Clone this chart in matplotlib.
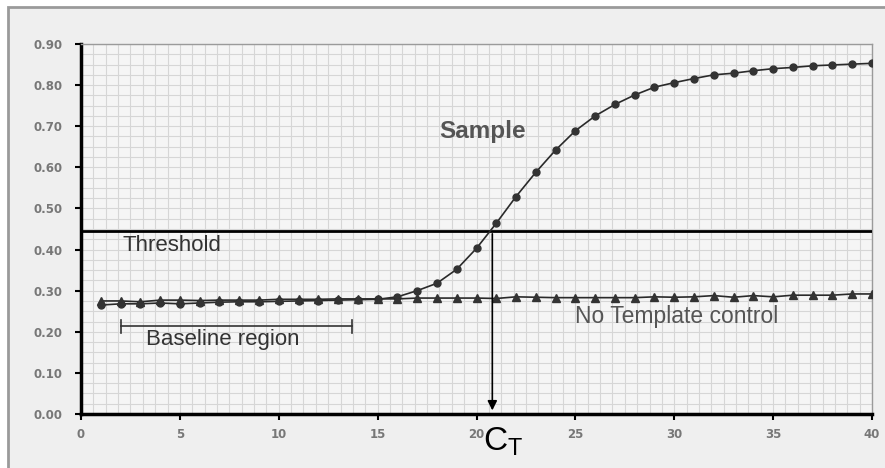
import numpy as np
import matplotlib.pyplot as plt
from matplotlib.patches import Rectangle
from matplotlib.ticker import MultipleLocator

# cycle numbers
cycles = list(range(1, 41))

# Sample fluorescence (circles)
sample = [0.265, 0.268, 0.268, 0.270, 0.268, 0.270, 0.272, 0.273, 0.273, 0.274,
          0.275, 0.276, 0.277, 0.278, 0.279, 0.285, 0.300, 0.318, 0.352, 0.403,
          0.464, 0.529, 0.588, 0.642, 0.689, 0.725, 0.753, 0.776, 0.795, 0.806,
          0.816, 0.825, 0.829, 0.835, 0.840, 0.843, 0.847, 0.849, 0.851, 0.853]

# No template control (triangles)
ntc = [0.275, 0.275, 0.273, 0.277, 0.277, 0.276, 0.277, 0.277, 0.277, 0.279,
       0.279, 0.279, 0.280, 0.280, 0.280, 0.280, 0.282, 0.282, 0.282, 0.282,
       0.281, 0.285, 0.284, 0.283, 0.283, 0.283, 0.283, 0.283, 0.285, 0.284,
       0.285, 0.288, 0.284, 0.288, 0.285, 0.289, 0.289, 0.289, 0.292, 0.292]

threshold = 0.445
ct = 20.8
baseline_start = 2.0
baseline_end = 13.7

x_ticks = [0, 5, 10, 15, 20, 25, 30, 35, 40]
y_ticks = [0.0, 0.1, 0.2, 0.3, 0.4, 0.5, 0.6, 0.7, 0.8, 0.9]

plt.rcParams['font.family'] = ['Liberation Sans', 'DejaVu Sans']
plt.rcParams['mathtext.fontset'] = 'custom'
plt.rcParams['mathtext.rm'] = 'Liberation Sans'

fig = plt.figure(figsize=(8.85, 4.68), dpi=100)
fig.patch.set_facecolor('white')
# panel frame
frame = Rectangle((8 / 885, -0.01), 1.0, 1 - 7 / 468 + 0.01,
                  transform=fig.transFigure, facecolor='#efefef',
                  edgecolor='#9a9a9a', linewidth=2, zorder=-10)
fig.add_artist(frame)

ax = fig.add_axes([81 / 885, 1 - 414 / 468, (872 - 81) / 885, (414 - 44) / 468])
ax.set_facecolor('#f5f5f5')

ax.plot(cycles, sample, color='#2a2a2a', linewidth=1.2, marker='o',
        markersize=5, markerfacecolor='#333333', markeredgecolor='#333333', zorder=4)
ax.plot(cycles, ntc, color='#2a2a2a', linewidth=1.2, marker='^',
        markersize=6, markerfacecolor='#333333', markeredgecolor='#333333', zorder=4)

# threshold
ax.axhline(threshold, color='black', linewidth=2, zorder=3)
ax.text(2.1, 0.41, 'Threshold', fontsize=16, color='#333333', va='center')

# Ct arrow
ax.annotate('', xy=(ct, 0.002), xytext=(ct, threshold),
            arrowprops=dict(arrowstyle='-|>', color='black', lw=1.2,
                            mutation_scale=14), zorder=5)
ax.text(ct + 0.55, -0.068, r'$\mathregular{C_T}$', fontsize=24, color='black',
        ha='center', va='center', clip_on=False)

# baseline region bracket
ax.plot([baseline_start, baseline_end], [0.215, 0.215], color='#333333', linewidth=1.2)
ax.plot([baseline_start, baseline_start], [0.198, 0.228], color='#333333', linewidth=1.2)
ax.plot([baseline_end, baseline_end], [0.198, 0.228], color='#333333', linewidth=1.2)
ax.text(3.3, 0.182, 'Baseline region', fontsize=16, color='#333333', va='center')

ax.text(18.1, 0.686, 'Sample', fontsize=17.5, fontweight='bold', color='#555555',
        va='center')
ax.text(25.0, 0.237, 'No Template control', fontsize=16.5, color='#555555',
        va='center')

ax.set_xlim(0, 40)
ax.set_ylim(0, 0.9)
ax.set_xticks(x_ticks)
ax.set_yticks(y_ticks)
ax.set_yticklabels(['%.2f' % v for v in y_ticks])
ax.xaxis.set_minor_locator(MultipleLocator(0.625))
ax.yaxis.set_minor_locator(MultipleLocator(0.025))
ax.grid(True, which='both', color='#d6d6d6', linewidth=0.8)
ax.set_axisbelow(True)

ax.tick_params(which='minor', length=0)
ax.tick_params(which='major', length=4, width=1.5, color='black',
               labelsize=8.5, labelcolor='#777777')
ax.tick_params(axis='y', pad=9)
ax.tick_params(axis='x', pad=6)
for lbl in ax.get_xticklabels() + ax.get_yticklabels():
    lbl.set_fontweight('bold')
    lbl.set_family('DejaVu Sans')

ax.spines['left'].set_linewidth(2.5)
ax.spines['bottom'].set_linewidth(2.5)
ax.spines['left'].set_color('black')
ax.spines['bottom'].set_color('black')
ax.spines['top'].set_color('#9a9a9a')
ax.spines['right'].set_color('#9a9a9a')
ax.spines['top'].set_linewidth(1)
ax.spines['right'].set_linewidth(1)

plt.savefig('out.png', dpi=100, facecolor=fig.get_facecolor())
